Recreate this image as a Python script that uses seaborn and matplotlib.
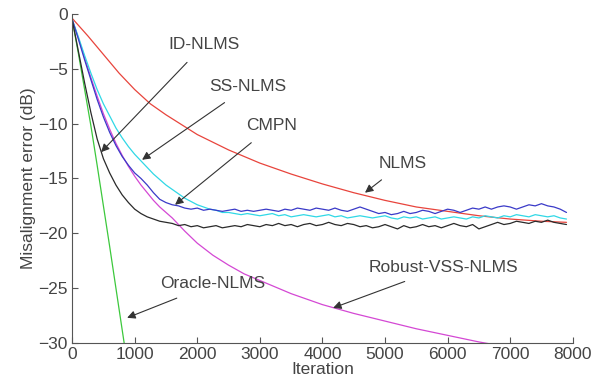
import numpy as np
import pandas as pd
import matplotlib
matplotlib.use('Agg')
import matplotlib.pyplot as plt
import seaborn as sns

# 迭代次数（噪声较大的曲线每100次取一个点）
iters_fine = list(range(0, 8000, 100))

id_nlms = [-0.5, -3.4, -6.3, -9.0, -11.4, -13.2, -14.5, -15.6, -16.5, -17.2,
           -17.8, -18.2, -18.5, -18.7, -18.9, -19.0, -19.1, -19.3, -19.2, -19.4,
           -19.3, -19.5, -19.4, -19.3, -19.5, -19.4, -19.3, -19.4, -19.2, -19.3,
           -19.4, -19.2, -19.3, -19.1, -19.3, -19.2, -19.4, -19.2, -19.1, -19.3,
           -19.2, -19.0, -19.2, -19.3, -19.1, -19.2, -19.4, -19.3, -19.5, -19.4,
           -19.2, -19.4, -19.6, -19.3, -19.5, -19.4, -19.2, -19.4, -19.3, -19.5,
           -19.3, -19.1, -19.3, -19.4, -19.2, -19.6, -19.4, -19.2, -19.0, -19.2,
           -19.1, -18.9, -19.0, -19.1, -18.9, -19.0, -18.8, -19.0, -19.1, -19.2]

cmpn = [-0.5, -2.3, -4.2, -6.0, -7.8, -9.4, -10.8, -12.0, -13.0, -13.8,
        -14.5, -15.0, -15.6, -16.3, -16.9, -17.2, -17.4, -17.5, -17.7, -17.8,
        -17.7, -17.9, -17.8, -17.9, -18.0, -17.9, -17.8, -18.0, -17.9, -18.0,
        -17.9, -17.8, -17.9, -18.0, -17.8, -17.9, -17.7, -17.8, -17.9, -17.7,
        -17.8, -17.9, -17.7, -17.9, -18.0, -17.8, -17.6, -17.8, -18.0, -18.2,
        -18.1, -18.3, -18.2, -18.0, -18.2, -18.1, -17.9, -18.0, -18.2, -18.0,
        -17.8, -17.9, -18.1, -17.9, -17.7, -17.8, -17.6, -17.8, -17.6, -17.5,
        -17.6, -17.8, -17.6, -17.4, -17.5, -17.3, -17.5, -17.6, -17.8, -18.1]

ss_nlms = [-0.5, -2.1, -3.8, -5.4, -6.9, -8.2, -9.3, -10.4, -11.3, -12.1,
           -12.8, -13.4, -14.0, -14.6, -15.1, -15.6, -16.0, -16.4, -16.8, -17.1,
           -17.4, -17.6, -17.8, -17.9, -18.1, -18.1, -18.2, -18.3, -18.2, -18.3,
           -18.4, -18.3, -18.2, -18.4, -18.3, -18.5, -18.4, -18.3, -18.4, -18.5,
           -18.4, -18.3, -18.5, -18.4, -18.6, -18.5, -18.4, -18.5, -18.6, -18.5,
           -18.4, -18.6, -18.7, -18.5, -18.6, -18.5, -18.7, -18.6, -18.5, -18.7,
           -18.6, -18.5, -18.6, -18.7, -18.5, -18.6, -18.4, -18.5, -18.6, -18.4,
           -18.5, -18.3, -18.4, -18.5, -18.3, -18.4, -18.5, -18.4, -18.6, -18.7]

# 平滑曲线
iters_nlms = [0, 250, 500, 750, 1000, 1250, 1500, 1750, 2000, 2500, 3000,
              3500, 4000, 4500, 5000, 5500, 6000, 6500, 7000, 7500, 7900]
nlms = [-0.4, -2.0, -3.7, -5.4, -6.9, -8.2, -9.2, -10.1, -11.0, -12.4, -13.6,
        -14.6, -15.5, -16.3, -17.0, -17.6, -18.0, -18.4, -18.7, -18.9, -19.0]

iters_rvss = [0, 100, 200, 300, 400, 500, 600, 700, 800, 900, 1000, 1100, 1200,
              1300, 1400, 1500, 1600, 1800, 2000, 2250, 2500, 2750, 3000, 3500,
              4000, 4500, 5000, 5500, 6000, 6500, 7000, 7500, 7900]
robust_vss = [-0.5, -2.2, -4.0, -5.8, -7.5, -9.1, -10.5, -11.8, -12.9, -13.9,
              -14.8, -15.6, -16.3, -17.0, -17.6, -18.1, -18.6, -19.8, -20.9,
              -22.0, -22.9, -23.7, -24.3, -25.5, -26.5, -27.3, -28.0, -28.7,
              -29.3, -29.9, -30.4, -30.8, -31.1]

iters_oracle = [0, 100, 200, 300, 400, 500, 600, 700, 800, 900]
oracle = [-0.5, -3.6, -6.9, -10.2, -13.8, -17.5, -21.2, -25.0, -28.8, -32.6]

series = {
    'NLMS': (iters_nlms, nlms),
    'Oracle-NLMS': (iters_oracle, oracle),
    'Robust-VSS-NLMS': (iters_rvss, robust_vss),
    'SS-NLMS': (iters_fine, ss_nlms),
    'CMPN': (iters_fine, cmpn),
    'ID-NLMS': (iters_fine, id_nlms),
}
colors = {
    'NLMS': '#e8443c',
    'Oracle-NLMS': '#3cc83c',
    'Robust-VSS-NLMS': '#d448d4',
    'SS-NLMS': '#30d8e6',
    'CMPN': '#3a3ac8',
    'ID-NLMS': '#2a2a2a',
}

df = pd.concat([pd.DataFrame({'Iteration': x, 'err': y, 'alg': name})
                for name, (x, y) in series.items()], ignore_index=True)

sns.set_style('ticks')
plt.rcParams['font.family'] = ['Liberation Sans', 'DejaVu Sans']

fig = plt.figure(figsize=(6.01, 3.85), dpi=100)
ax = fig.add_axes([0.12, 0.109, 0.833, 0.855])

sns.lineplot(data=df, x='Iteration', y='err', hue='alg', palette=colors,
             estimator=None, sort=False, linewidth=0.9, legend=False, ax=ax)

ax.set_xlim(0, 8000)
ax.set_ylim(-30, 0)
ax.set_xticks(range(0, 8001, 1000))
ax.set_yticks(range(-30, 1, 5))
txt = '#444444'
fs = 12.5
ax.tick_params(direction='in', length=4, width=0.8, colors='#555555',
               labelcolor=txt, labelsize=fs, pad=3)
for s in ['top', 'right']:
    ax.spines[s].set_visible(False)
for s in ['left', 'bottom']:
    ax.spines[s].set_color('#555555')
    ax.spines[s].set_linewidth(0.8)
ax.set_xlabel('Iteration', fontsize=fs, color=txt, labelpad=0)
ax.set_ylabel('Misalignment error (dB)', fontsize=fs, color=txt, labelpad=2)

# 标注 (文字位置, 箭头尖端)
notes = [
    ('ID-NLMS', (2109, -2.8), (463, -12.6)),
    ('SS-NLMS', (2812, -6.6), (1118, -13.3)),
    ('CMPN', (3195, -10.2), (1645, -17.4)),
    ('NLMS', (5288, -13.6), (4680, -16.3)),
    ('Oracle-NLMS', (2252, -24.6), (879, -27.7)),
    ('Robust-VSS-NLMS', (5927, -23.1), (4170, -26.8)),
]
for label, xytext, xy in notes:
    ax.annotate(label, xy=xy, xytext=xytext, fontsize=fs, color=txt,
                ha='center', va='center',
                arrowprops=dict(arrowstyle='-|>', color='#333333', lw=0.8,
                                mutation_scale=12, shrinkA=7, shrinkB=0))

fig.savefig('out.png', dpi=100)
